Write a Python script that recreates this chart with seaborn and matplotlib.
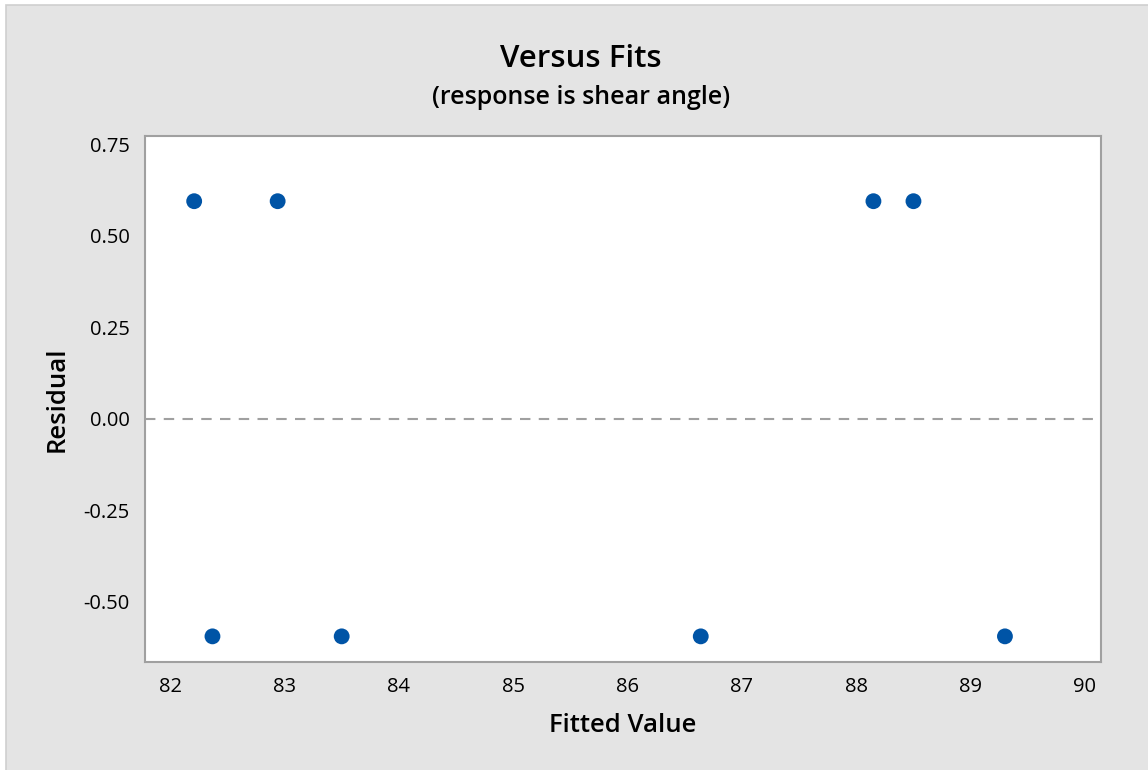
import matplotlib
matplotlib.use("Agg")
import matplotlib.pyplot as plt
from matplotlib.patches import Rectangle
import seaborn as sns
import pandas as pd

# fitted values and residuals
fitted = [82.21, 82.94, 82.37, 83.50, 86.64, 88.15, 88.50, 89.30]
resid = [0.594, 0.594, -0.594, -0.594, -0.594, 0.594, 0.594, -0.594]
xticks = [82, 83, 84, 85, 86, 87, 88, 89, 90]
yticks = [-0.50, -0.25, 0.00, 0.25, 0.50, 0.75]

df = pd.DataFrame({"fit": fitted, "res": resid})

sns.set_style("white")
plt.rcParams["font.family"] = ["Open Sans", "DejaVu Sans"]
plt.rcParams["text.color"] = "black"
plt.rcParams["axes.labelcolor"] = "black"

fig = plt.figure(figsize=(11.48, 7.70), dpi=100, facecolor="white")
# grey panel behind the plot
fig.patches.append(Rectangle((6 / 1148, -0.01), 1.0, (765 / 770) + 0.01,
                             transform=fig.transFigure, facecolor="#E4E4E4",
                             edgecolor="#CFCFCF", linewidth=1.2, zorder=-5))

ax = fig.add_axes([145 / 1148, 1 - 662 / 770, 956 / 1148, 526 / 770])
ax.set_zorder(1)
ax.set_facecolor("white")

sns.scatterplot(data=df, x="fit", y="res", ax=ax, color="#0054A6",
                s=130, edgecolor="none", zorder=3)
ax.axhline(0, color="#A0A0A0", linestyle=(0, (5, 4)), linewidth=1.5, zorder=2)

ax.set_xlim(81.78, 90.14)
ax.set_ylim(-0.664, 0.772)
ax.set_xticks(xticks)
ax.set_yticks(yticks)
ax.set_yticklabels([f"{v:.2f}" for v in yticks])

for s in ax.spines.values():
    s.set_color("#A0A0A0")
    s.set_linewidth(1.5)
ax.tick_params(axis="both", direction="out", length=6, width=1.5,
               color="#A0A0A0", labelsize=14.5, labelcolor="black", pad=5)

ax.set_xlabel("Fitted Value", fontsize=18.5, fontweight="semibold", labelpad=11)
ax.set_ylabel("Residual", fontsize=18.5, fontweight="semibold", labelpad=10)

fig.text(581 / 1148, 1 - 59 / 770, "Versus Fits", ha="center", va="center",
         fontsize=22.5, fontweight="semibold", color="black")
fig.text(581 / 1148, 1 - 98 / 770, "(response is shear angle)", ha="center",
         va="center", fontsize=18, fontweight="semibold", color="black")

plt.savefig("out.png", dpi=100, facecolor="white")
plt.close(fig)
